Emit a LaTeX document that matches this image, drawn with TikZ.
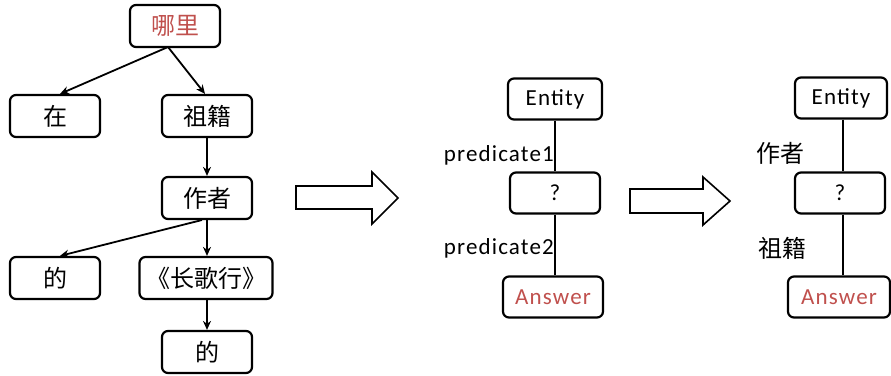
\documentclass[tikz,border=0pt]{standalone}
\usepackage{fontspec}
\setmainfont[LetterSpace=5]{Carlito}
\newfontfamily\cjk{Noto Sans CJK SC}
\usetikzlibrary{arrows.meta}
\definecolor{redtxt}{RGB}{192,80,77}
\tikzset{
  wbox/.style={draw=black, line width=2.2pt, rounded corners=6pt, fill=white,
    minimum width=#1, minimum height=42pt, inner sep=0pt, font=\cjk\fontsize{24}{26}\selectfont},
  wbox/.default=90pt,
  ebox/.style={draw=black, line width=2.2pt, rounded corners=6pt, fill=white,
    minimum width=#1, minimum height=41pt, inner sep=0pt, font=\fontsize{23}{26}\selectfont},
  ebox/.default=92pt,
  tarr/.style={-{Stealth[length=9pt,width=8pt]}, line width=1.8pt},
  link/.style={line width=1.8pt},
  lbl/.style={font=\fontsize{23}{26}\selectfont, inner sep=1pt},
  clbl/.style={font=\cjk\fontsize{24}{26}\selectfont, inner sep=1pt},
  hollow/.style={draw=black, line width=1.6pt, fill=white}
}
\begin{document}
\begin{tikzpicture}[x=1pt,y=-1pt]
\useasboundingbox (0,0) rectangle (891,375);
% left tree
\node[wbox, text=redtxt] (nali) at (175,26) {哪里};
\node[wbox] (zai) at (55,116) {在};
\node[wbox] (zuji) at (207,116) {祖籍};
\node[wbox] (zuozhe) at (207,198) {作者};
\node[wbox] (de1) at (55,278) {的};
\node[wbox=133pt] (cgx) at (206,278) {《长歌行》};
\node[wbox] (de2) at (207,352) {的};
\coordinate (s1) at (168,47);
\coordinate (s2) at (202,220);
\draw[tarr] (s1) -- ([xshift=5pt]zai.north);
\draw[tarr] (s1) -- ([xshift=-2pt]zuji.north);
\draw[tarr] (zuji.south) -- (zuozhe.north);
\draw[tarr] (s2) -- ([xshift=5pt]de1.north);
\draw[tarr] (zuozhe.south) -- (cgx.north -| zuozhe.south);
\draw[tarr] (cgx.south -| de2.north) -- (de2.north);
% hollow arrow 1
\draw[hollow] (296,186) -- (372,186) -- (372,172) -- (398,198) -- (372,224) -- (372,209) -- (296,209) -- cycle;
% middle graph
\node[ebox=94pt] (ent1) at (555,99) {Entity};
\node[ebox=90pt] (q1) at (555,193) {?};
\node[ebox=100pt, text=redtxt] (ans1) at (553,297) {Answer};
\draw[link] (ent1.south) -- (q1.north);
\draw[link] (q1.south) -- (ans1.north -| q1.south);
\node[lbl, anchor=east] (p1) at (555,155) {predicate1};
\node[lbl, anchor=east] (p2) at (555,248) {predicate2};
% hollow arrow 2
\draw[hollow] (630,189) -- (703,189) -- (703,177) -- (730,201) -- (703,225) -- (703,213) -- (630,213) -- cycle;
% right graph
\node[ebox=92pt] (ent2) at (841,98) {Entity};
\node[ebox=90pt] (q2) at (840,193) {?};
\node[ebox=102pt, text=redtxt] (ans2) at (839,297) {Answer};
\draw[link] (ent2.south -| 843,0) -- (q2.north -| 843,0);
\draw[link] (q2.south -| 843,0) -- (ans2.north -| 843,0);
\node[clbl] (r1) at (780,153) {作者};
\node[clbl] (r2) at (782,248) {祖籍};
\end{tikzpicture}
\end{document}
